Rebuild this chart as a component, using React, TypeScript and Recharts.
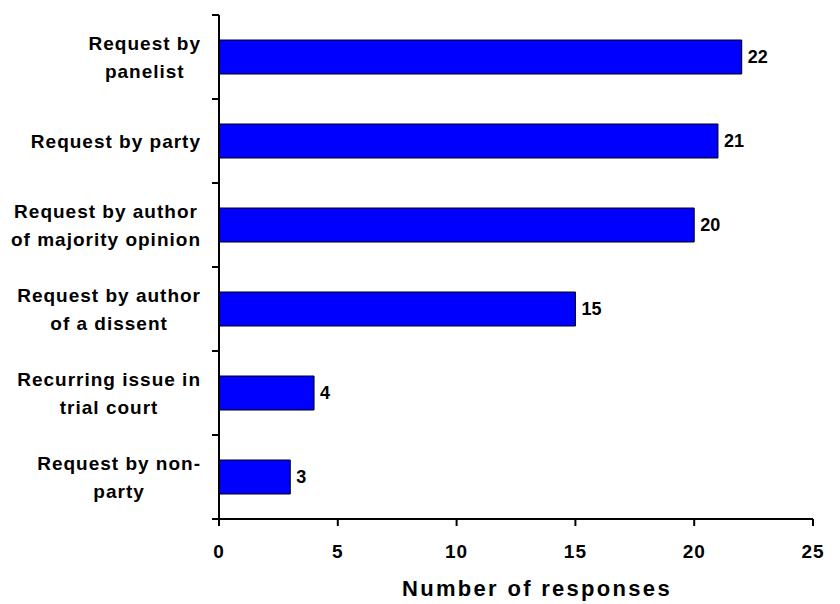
import { BarChart, Bar, XAxis, YAxis, LabelList, Label } from 'recharts';

const categories = [
    'Request by\npanelist',
    'Request by party',
    'Request by author\nof majority opinion',
    'Request by author\nof a dissent',
    'Recurring issue in\ntrial court',
    'Request by non-\nparty',
];
const responses = [22, 21, 20, 15, 4, 3];
const xTicks = [0, 5, 10, 15, 20, 25];
const axisTitle = 'Number of responses';

const FONT = '"Liberation Sans", Arial, Helvetica, sans-serif';
const LABEL_SIZE = 19;
const LABEL_SPACING = 1;

const data = categories.map((name, i) => ({ name, value: responses[i] }));

let measureCtx: CanvasRenderingContext2D | null = null;
function textWidth(s: string) {
    if (!measureCtx) {
        measureCtx = document.createElement('canvas').getContext('2d');
    }
    if (!measureCtx) return s.length * 10;
    measureCtx.font = `bold ${LABEL_SIZE}px ${FONT}`;
    return measureCtx.measureText(s).width + LABEL_SPACING * s.length;
}

// category label: lines centred on each other, block right-aligned to the axis,
// plus a short tick at the band boundary
function CategoryTick(props: any) {
    const { x, y, payload, index, visibleTicksCount } = props;
    const half = payload.offset ?? 42;
    const lines = String(payload.value).split('\n');
    const blockW = Math.max(...lines.map(textWidth));
    const cx = x - blockW / 2;
    const lineH = 28;
    const first = y - ((lines.length - 1) * lineH) / 2 + 7;
    const tx1 = x + 11;
    const tx2 = x + 18;
    return (
        <g>
            <line x1={tx1} x2={tx2} y1={y - half} y2={y - half} stroke="#000" strokeWidth={2} />
            {index === visibleTicksCount - 1 && (
                <line x1={tx1} x2={tx2} y1={y + half} y2={y + half} stroke="#000" strokeWidth={2} />
            )}
            {lines.map((line, i) => (
                <text
                    key={i}
                    x={cx}
                    y={first + i * lineH}
                    textAnchor="middle"
                    fill="#000"
                    fontFamily={FONT}
                    fontWeight="bold"
                    fontSize={LABEL_SIZE}
                    letterSpacing={LABEL_SPACING}
                >
                    {line}
                </text>
            ))}
        </g>
    );
}

function AxisTitle(props: any) {
    const vb = props.viewBox || { x: 0, y: 0, width: 0, height: 0 };
    return (
        <text
            x={vb.x + vb.width / 2 + 21}
            y={vb.y + 77}
            textAnchor="middle"
            fill="#000"
            fontFamily={FONT}
            fontWeight="bold"
            fontSize={22}
            letterSpacing={2.3}
        >
            {axisTitle}
        </text>
    );
}

export default function App() {
    return (
        <div style={{ position: 'absolute', left: 0, top: 0, background: '#fff' }}>
            <BarChart
                width={840}
                height={604}
                data={data}
                layout="vertical"
                margin={{ top: 15, right: 27, bottom: 0, left: 0 }}
                barSize={34}
            >
                <XAxis
                    type="number"
                    domain={[0, 25]}
                    ticks={xTicks}
                    interval={0}
                    height={85}
                    axisLine={{ stroke: '#000', strokeWidth: 2 }}
                    tickLine={{ stroke: '#000', strokeWidth: 2 }}
                    tickSize={7}
                    tickMargin={19}
                    tick={{ fill: '#000', fontFamily: FONT, fontWeight: 'bold', fontSize: 19, letterSpacing: 1 }}
                >
                    <Label content={<AxisTitle />} />
                </XAxis>
                <YAxis
                    type="category"
                    dataKey="name"
                    width={219}
                    interval={0}
                    axisLine={{ stroke: '#000', strokeWidth: 2 }}
                    tickLine={false}
                    tickSize={7}
                    tickMargin={11}
                    tick={<CategoryTick />}
                />
                <Bar dataKey="value" fill="#0000FF" stroke="#000" strokeWidth={1} isAnimationActive={false}>
                    <LabelList
                        dataKey="value"
                        position="right"
                        offset={6}
                        fill="#000"
                        fontFamily={FONT}
                        fontWeight="bold"
                        fontSize={18}
                    />
                </Bar>
            </BarChart>
        </div>
    );
}
